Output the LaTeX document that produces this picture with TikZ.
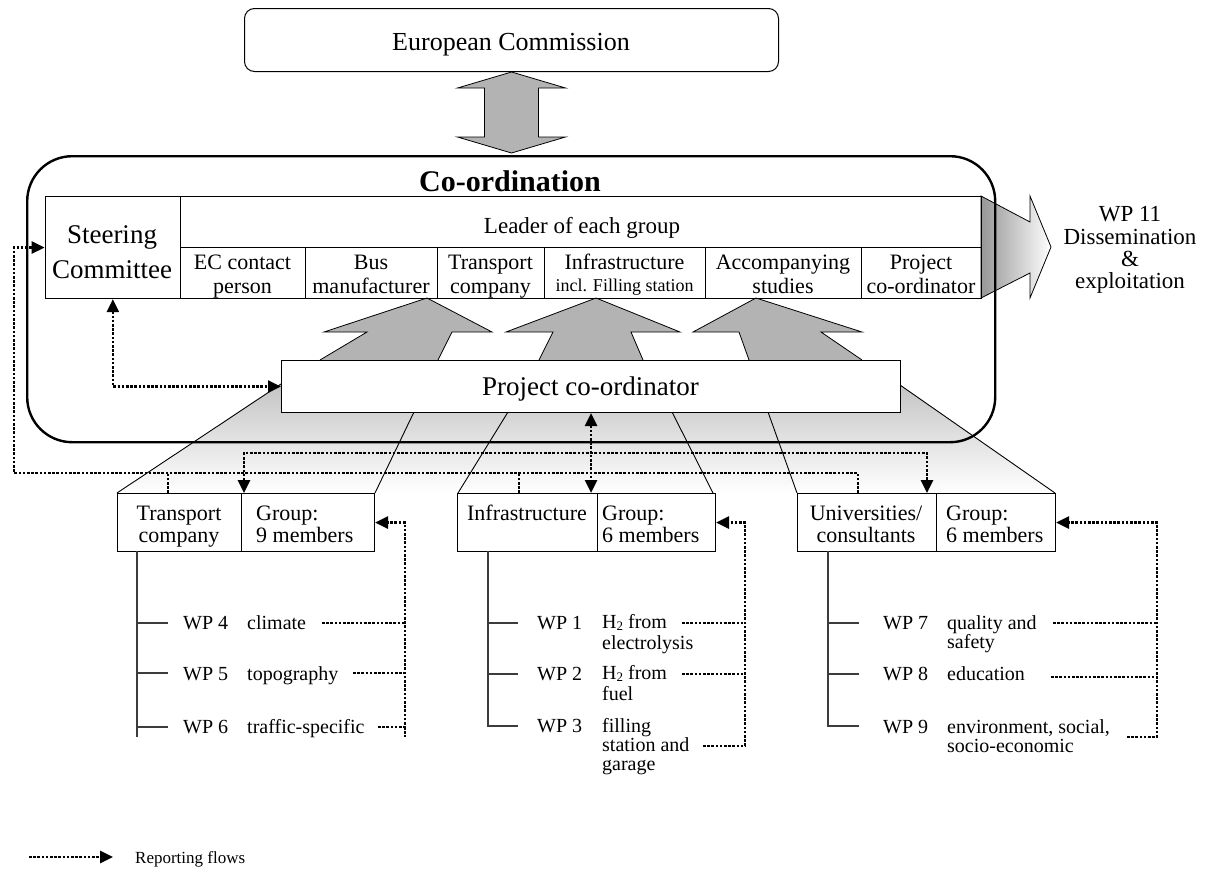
\documentclass[tikz,border=0pt]{standalone}
\usepackage{fontspec}
\setmainfont{Liberation Serif}
\usetikzlibrary{arrows.meta,calc}
\newcommand\fsz[1]{\fontsize{#1}{#1}\selectfont}
\newcommand\hydro{H\raisebox{-2.5pt}{\fsz{13}2}}
\definecolor{headgray}{RGB}{179,179,179}
\definecolor{fungray}{RGB}{196,196,196}
\definecolor{darkarrow}{RGB}{150,150,150}
\definecolor{treegray}{RGB}{60,60,60}
\tikzset{
  cell/.style={draw, line width=1.1pt, inner sep=0pt, anchor=north west},
  txt/.style={inner sep=0pt, anchor=base},
  txtl/.style={inner sep=0pt, anchor=base west},
  report/.style={line width=2.6pt, dash pattern=on 2.6pt off 1.6pt},
  tipend/.style={-{Triangle[length=13pt,width=12pt]}},
  tipboth/.style={{Triangle[length=13pt,width=12pt]}-{Triangle[length=13pt,width=12pt]}},
  edgeline/.style={line width=0.9pt},
  tree/.style={line width=1.2pt, draw=treegray},
}
\begin{document}
\begin{tikzpicture}[x=1pt,y=-1pt]
\useasboundingbox (0,0) rectangle (1213,870);

% --- European Commission and the two-way link to the co-ordination ---
\node[cell, rounded corners=10pt, line width=1pt, minimum width=534pt, minimum height=63pt] (ec) at (244,8) {};
\node[txt] (ect) at (511,50) {\fsz{26}European Commission};
\shadedraw[top color=headgray, middle color=white, bottom color=headgray, line width=0.8pt]
  (ec.south) -- ++(54,16) -- ++(-27,0) -- ++(0,49) -- ++(27,0) -- ++(-54,16)
  -- ++(-54,-16) -- ++(27,0) -- ++(0,-49) -- ++(-27,0) -- cycle;

% --- band between the project co-ordinator and the groups ---
\shade[top color=fungray, bottom color=white]
  (281,384) -- (281,412) -- (900,412) -- (900,385) -- (1055,493) -- (117,493) -- cycle;
\draw[edgeline] (281,384) -- (117,493);
\draw[edgeline] (414,412) -- (375,493);
\draw[edgeline] (508,412) -- (458,493);
\draw[edgeline] (672,412) -- (713,493);
\draw[edgeline] (768,412) -- (797,493);
\draw[edgeline] (900,385) -- (1055,493);

% --- gray arrows from the project co-ordinator to the group leaders ---
\filldraw[fill=headgray, line width=0.8pt] (320,360) -- (367,332) -- (324,332) -- (427,298) -- (492,332) -- (452,332) -- (438,360);
\filldraw[fill=headgray, line width=0.8pt] (539,360) -- (553,332) -- (506,332) -- (596,298) -- (680,332) -- (631,332) -- (643,360);
\filldraw[fill=headgray, line width=0.8pt] (749,360) -- (739,332) -- (693,332) -- (756,298) -- (862,332) -- (821,332) -- (862,360);

% --- dissemination arrow ---
\shadedraw[left color=darkarrow, right color=white, line width=0.8pt]
  (981,196) -- (1030,222) -- (1030,196) -- (1051,247) -- (1030,298) -- (1030,273) -- (981,298) -- cycle;
\node[txt] (wp11a) at (1130,221) {\fsz{23}WP 11};
\node[txt] (wp11b) at (1130,244) {\fsz{23}Dissemination};
\node[txt] (wp11c) at (1130,266) {\fsz{23}\&};
\node[txt] (wp11d) at (1130,288) {\fsz{23}exploitation};

% --- co-ordination frame ---
\node[cell, rounded corners=45pt, line width=2.4pt, minimum width=968pt, minimum height=286pt] (coord) at (26,155) {};
\node[txt] (coordt) at (510,191) {\fsz{30}\bfseries Co-ordination};

% --- table of the co-ordination ---
\node[cell, minimum width=135.4pt, minimum height=102pt] (steer) at (44.6,196) {};
\node[cell, minimum width=801pt, minimum height=51pt] (leader) at (180,196) {};
\node[cell, minimum width=125pt, minimum height=51pt] (cec) at (180,247) {};
\node[cell, minimum width=132pt, minimum height=51pt] (cbus) at (305,247) {};
\node[cell, minimum width=107pt, minimum height=51pt] (ctr) at (437,247) {};
\node[cell, minimum width=161pt, minimum height=51pt] (cinf) at (544,247) {};
\node[cell, minimum width=156pt, minimum height=51pt] (cacc) at (705,247) {};
\node[cell, minimum width=120pt, minimum height=51pt] (cprj) at (861,247) {};

\node[txt] (steer1) at (112,243) {\fsz{27}Steering};
\node[txt] (steer2) at (112,278) {\fsz{27}Committee};
\node[txt] (leadt) at (582,233) {\fsz{23}Leader of each group};
\node[txt] (cec1) at (242.5,269) {\fsz{22}EC contact};
\node[txt] (cec2) at (242.5,293) {\fsz{22}person};
\node[txt] (cbus1) at (371,269) {\fsz{22}Bus};
\node[txt] (cbus2) at (371,293) {\fsz{22}manufacturer};
\node[txt] (ctr1) at (490.5,269) {\fsz{22}Transport};
\node[txt] (ctr2) at (490.5,293) {\fsz{22}company};
\node[txt] (cinf1) at (624.5,269) {\fsz{22}Infrastructure};
\node[txt] (cinf2) at (624.5,291) {\fsz{18}incl. Filling station};
\node[txt] (cacc1) at (783,269) {\fsz{22}Accompanying};
\node[txt] (cacc2) at (783,293) {\fsz{22}studies};
\node[txt] (cprj1) at (921,269) {\fsz{22}Project};
\node[txt] (cprj2) at (921,293) {\fsz{22}co-ordinator};

% --- project co-ordinator ---
\node[cell, fill=white, minimum width=619pt, minimum height=52pt] (pc) at (281,360) {};
\node[txt] (pct) at (590.5,395) {\fsz{27}Project co-ordinator};

% --- groups ---
\node[cell, minimum width=124pt, minimum height=58pt] (tcl) at (117,493) {};
\node[cell, minimum width=133pt, minimum height=58pt] (tcr) at (241,493) {};
\node[cell, minimum width=140pt, minimum height=58pt] (icl) at (457,493) {};
\node[cell, minimum width=118pt, minimum height=58pt] (icr) at (597,493) {};
\node[cell, minimum width=139pt, minimum height=58pt] (ucl) at (797,493) {};
\node[cell, minimum width=119pt, minimum height=58pt] (ucr) at (936,493) {};

\node[txt] (tcl1) at (179,520) {\fsz{22}Transport};
\node[txt] (tcl2) at (179,542) {\fsz{22}company};
\node[txtl] (tcr1) at (256,520) {\fsz{22}Group:};
\node[txtl] (tcr2) at (256,542) {\fsz{22}9 members};
\node[txt] (icl1) at (527,520) {\fsz{22}Infrastructure};
\node[txtl] (icr1) at (602,520) {\fsz{22}Group:};
\node[txtl] (icr2) at (602,542) {\fsz{22}6 members};
\node[txt] (ucl1) at (866,520) {\fsz{22}Universities/};
\node[txt] (ucl2) at (866,542) {\fsz{22}consultants};
\node[txtl] (ucr1) at (946,520) {\fsz{22}Group:};
\node[txtl] (ucr2) at (946,542) {\fsz{22}6 members};

% --- work packages of each group ---
\draw[tree] (137,551) -- (137,737);
\draw[tree] (137,623) -- (168,623) (137,673) -- (168,673) (137,727) -- (168,727);
\draw[tree] (488,551) |- (518,726);
\draw[tree] (488,623) -- (518,623) (488,674) -- (518,674);
\draw[tree] (828,551) |- (859,726);
\draw[tree] (828,623) -- (859,623) (828,674) -- (859,674);

\node[txtl] (wp4) at (183,629) {\fsz{20}WP 4};
\node[txtl] (wp4t) at (247,629) {\fsz{20}climate};
\node[txtl] (wp5) at (183,680) {\fsz{20}WP 5};
\node[txtl] (wp5t) at (247,680) {\fsz{20}topography};
\node[txtl] (wp6) at (183,733) {\fsz{20}WP 6};
\node[txtl] (wp6t) at (247,733) {\fsz{20}traffic-specific};

\node[txtl] (wp1) at (537,629) {\fsz{20}WP 1};
\node[txtl] (wp1t) at (602,628) {\fsz{20}\hydro{} from};
\node[txtl] (wp1u) at (602,649) {\fsz{20}electrolysis};
\node[txtl] (wp2) at (537,680) {\fsz{20}WP 2};
\node[txtl] (wp2t) at (602,679) {\fsz{20}\hydro{} from};
\node[txtl] (wp2u) at (602,700) {\fsz{20}fuel};
\node[txtl] (wp3) at (537,732) {\fsz{20}WP 3};
\node[txtl] (wp3t) at (602,732) {\fsz{20}filling};
\node[txtl] (wp3u) at (602,751) {\fsz{20}station and};
\node[txtl] (wp3v) at (602,770) {\fsz{20}garage};

\node[txtl] (wp7) at (883,629) {\fsz{20}WP 7};
\node[txtl] (wp7t) at (947,629) {\fsz{20}quality and};
\node[txtl] (wp7u) at (947,648) {\fsz{20}safety};
\node[txtl] (wp8) at (883,680) {\fsz{20}WP 8};
\node[txtl] (wp8t) at (947,680) {\fsz{20}education};
\node[txtl] (wp9) at (883,733) {\fsz{20}WP 9};
\node[txtl] (wp9t) at (947,733) {\fsz{20}environment, social,};
\node[txtl] (wp9u) at (947,752) {\fsz{20}socio-economic};

% --- reporting flows ---
\draw[report, tipboth] (steer.south) |- (pc.west);
\draw[report, tipend] (858,493) -- (858,473) -- (14,473) |- (steer.west);
\draw[report] (168,493) -- (168,473);
\draw[report] (519,493) -- (519,473);
\draw[report, tipboth] (244,493) -- (244,453) -- (927,453) -- (927,493);
\draw[report, tipboth] (pc.south) -- (pc.south |- icl.north);

\draw[report, tipend] (378,727) -- (405,727) |- (tcr.east);
\draw[report] (322,623) -- (405,623);
\draw[report] (353,673) -- (405,673);
\draw[report] (405,727) -- (405,737);

\draw[report, tipend] (703,746) -- (745,746) |- (icr.east);
\draw[report] (682,623) -- (745,623);
\draw[report] (682,674) -- (745,674);

\draw[report, tipend] (1127,737) -- (1157,737) |- (ucr.east);
\draw[report] (1053,623) -- (1157,623);
\draw[report] (1051,677) -- (1157,677);

% --- legend ---
\coordinate (lega) at (29,857);
\coordinate (legb) at (113,857);
\draw[report, tipend] (lega) -- (legb);
\node[txtl] (legt) at (135,863) {\fsz{17}Reporting flows};
\end{tikzpicture}
\end{document}
